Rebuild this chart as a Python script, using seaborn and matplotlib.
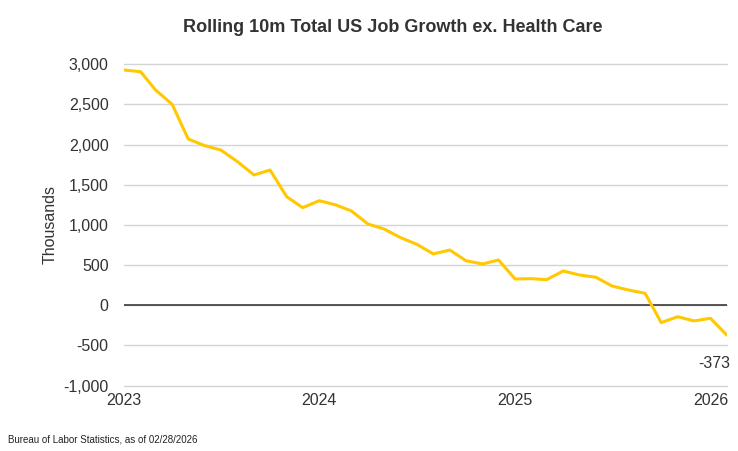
import matplotlib
matplotlib.use('Agg')
import matplotlib.pyplot as plt
import matplotlib.ticker as mticker
import seaborn as sns
import pandas as pd

# datos: crecimiento de empleo acumulado 10 meses, ex. salud (miles)
months = pd.date_range('2023-01-01', '2026-02-01', freq='MS')
values = [2929, 2908, 2680, 2502, 2070, 1987, 1933, 1788, 1622, 1684,
          1352, 1215, 1302, 1249, 1174, 1012, 950, 842, 760, 639,
          688, 555, 514, 564, 327, 331, 319, 427, 377, 349,
          240, 190, 149, -216, -142, -195, -162, -373]
year_ticks = ['2023', '2024', '2025', '2026']
y_ticks = [-1000, -500, 0, 500, 1000, 1500, 2000, 2500, 3000]

df = pd.DataFrame({'fecha': months, 'valor': values})

sns.set_style('white')
plt.rcParams['font.family'] = ['Liberation Sans', 'DejaVu Sans']

fig = plt.figure(figsize=(7.38, 4.51), dpi=100)
ax = fig.add_axes([124 / 738, 1 - 385.6 / 451, (727 - 124) / 738, (385.6 - 64.3) / 451])

for t in y_ticks:
    ax.axhline(t, color='#d4d4d4', lw=1, zorder=1, clip_on=False)
ax.axhline(0, color='#3a3a3a', lw=1.2, zorder=2)

sns.lineplot(data=df, x='fecha', y='valor', color='#FFC800', lw=2.2, ax=ax, zorder=3)

ax.set_ylim(-1000, 3000)
ax.set_xlim(months[0], months[-1])
ax.set_yticks(y_ticks)
ax.yaxis.set_major_formatter(mticker.FuncFormatter(lambda v, p: f'{int(v):,}'))
ax.set_xticks([pd.Timestamp(y + '-01-01') for y in year_ticks])
ax.set_xticklabels(year_ticks)
ax.tick_params(axis='y', length=0, pad=11, labelsize=11.5, labelcolor='#333333')
ax.tick_params(axis='x', length=0, pad=5, labelsize=11.5, labelcolor='#333333')
ax.set_xlabel('')
ax.set_ylabel('Thousands', fontsize=11.5, color='#333333', labelpad=4)
sns.despine(ax=ax, left=True, bottom=True)

ax.annotate(f'{values[-1]}', xy=(months[-1], values[-1]), xytext=(2, -20),
            textcoords='offset points', ha='right', va='center',
            fontsize=11.5, color='#333333')

fig.text(393 / 738, 1 - 28 / 451, 'Rolling 10m Total US Job Growth ex. Health Care',
         ha='center', va='center', fontsize=13, fontweight='bold', color='#333333')
fig.text(8 / 738, 1 - 440 / 451, 'Bureau of Labor Statistics, as of 02/28/2026',
         ha='left', va='center', fontsize=7, color='#222222')

plt.savefig('out.png', dpi=100)
plt.close()
